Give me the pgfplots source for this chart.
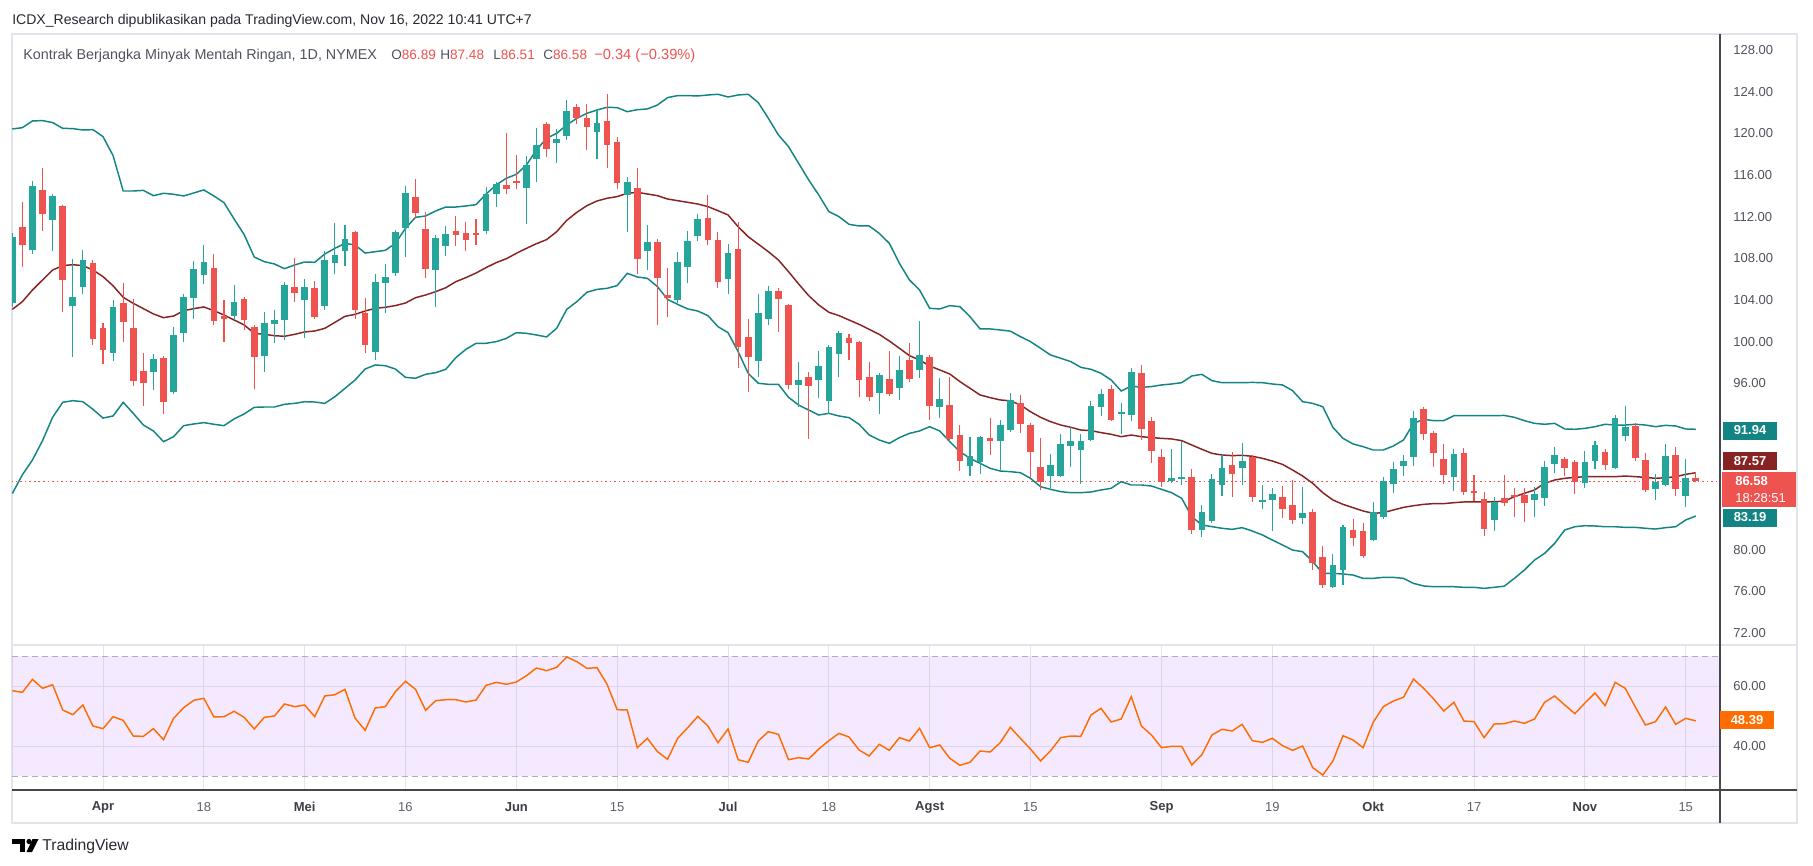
\documentclass[border=0pt]{standalone}
\usepackage{pgfplots}
\pgfplotsset{compat=1.18}
\usepackage{pgfplotstable}
\usepgfplotslibrary{fillbetween}
\usepackage{fontspec}
\setmainfont{Liberation Sans}
\definecolor{upc}{RGB}{38,166,154}
\definecolor{dnc}{RGB}{239,83,80}
\definecolor{bbc}{RGB}{19,132,132}
\definecolor{midc}{RGB}{135,35,35}
\definecolor{gridc}{RGB}{226,231,239}
\definecolor{axtxt}{RGB}{80,83,94}
\definecolor{rsic}{RGB}{255,109,0}
\definecolor{rsibg}{RGB}{153,21,255}
\definecolor{framec}{RGB}{226,228,236}
\definecolor{dashc}{RGB}{175,172,188}
\definecolor{darkax}{RGB}{70,70,75}
\definecolor{hdr}{RGB}{40,42,50}
\definecolor{monthc}{RGB}{60,62,70}
\definecolor{dayc}{RGB}{95,98,108}

\pgfplotstableread{
i o h l c
-9 103.67 110.40 103.30 110.07
-7 108.79 115.45 108.41 114.94
-5 111.71 114.17 108.73 113.98
-3 103.45 107.93 98.55 104.28
-2 105.27 108.79 104.60 107.83
1 98.93 103.99 98.16 103.32
5 97.11 98.80 95.35 98.32
7 95.18 101.40 94.93 100.63
8 100.85 104.57 99.99 104.28
9 104.21 107.74 102.20 106.97
10 106.42 109.27 105.56 107.64
13 102.45 105.43 102.07 103.80
16 98.64 102.84 97.10 101.78
17 101.72 103.03 99.89 102.07
18 102.10 105.72 100.18 105.43
20 103.99 106.00 100.37 105.24
22 103.45 108.70 103.06 107.83
23 107.58 111.39 106.49 108.31
24 108.70 111.20 107.26 109.85
27 99.03 106.49 98.26 105.72
28 105.65 107.45 102.77 106.20
29 106.62 110.71 106.30 110.52
30 110.91 114.94 108.12 114.27
33 106.87 110.23 103.35 109.94
34 109.18 111.10 108.22 110.33
38 110.62 114.84 110.33 114.17
39 114.17 115.32 112.92 115.13
42 114.75 117.82 111.29 116.96
43 117.54 120.51 115.32 118.88
45 119.07 120.42 117.15 119.46
46 119.74 123.20 119.36 122.15
49 120.13 122.34 117.54 120.99
52 114.08 115.80 110.52 115.32
54 108.70 111.19 106.87 109.56
57 103.99 108.60 103.70 107.64
58 107.16 110.62 105.62 109.65
59 110.14 112.25 109.65 111.77
62 106.00 109.37 104.57 108.50
65 98.13 104.57 96.59 102.74
66 102.16 105.33 101.59 104.85
69 95.82 98.03 93.71 96.30
71 96.30 99.09 94.58 97.65
72 94.29 99.67 93.04 99.47
73 98.80 101.01 96.59 100.82
77 95.05 96.98 93.04 96.78
79 95.53 98.61 94.38 97.26
81 97.26 101.97 96.49 98.70
83 93.71 96.49 92.65 94.48
86 88.04 90.83 87.08 89.00
87 88.42 90.92 87.27 90.83
89 90.44 92.46 87.66 91.98
90 91.50 95.06 91.31 94.39
94 87.09 89.20 85.93 88.14
95 87.09 91.12 86.99 90.16
96 89.97 91.79 87.95 90.45
97 89.58 91.12 86.32 90.45
98 90.54 94.29 90.45 93.81
99 93.71 95.44 92.85 94.96
101 93.08 94.10 91.12 93.22
102 92.94 97.46 92.37 97.08
106 86.60 89.68 86.41 86.89
107 86.80 90.45 86.22 86.95
109 81.90 84.30 81.23 83.63
110 82.76 87.28 82.60 86.80
111 86.22 89.10 85.16 87.85
113 87.85 90.26 86.22 88.53
115 84.62 86.22 83.91 84.78
116 84.78 85.93 81.80 85.35
119 83.05 86.03 82.47 83.53
122 76.42 79.59 76.30 78.54
123 78.06 82.38 76.61 82.19
126 80.94 84.59 80.80 83.63
127 83.15 86.99 83.00 86.60
128 86.32 88.43 85.45 87.76
129 88.04 89.10 87.09 88.53
130 88.91 93.33 88.04 92.66
134 86.99 89.68 85.64 89.20
138 82.86 85.07 81.80 84.59
142 84.78 86.03 83.18 85.35
143 84.97 88.53 84.20 87.95
144 88.24 89.87 87.37 89.10
147 86.41 89.49 85.93 88.43
148 88.53 90.45 87.76 90.06
150 87.85 92.94 87.80 92.65
151 90.93 93.81 90.45 91.79
154 85.84 87.27 84.78 86.51
155 86.22 90.16 86.10 89.00
157 85.16 88.72 84.11 86.92
}\upT

\pgfplotstableread{
i o h l c
-8 111.00 113.40 107.19 109.30
-6 114.56 116.67 110.65 112.28
-4 113.02 113.12 102.87 105.94
-1 107.54 107.83 99.67 100.28
0 101.30 101.78 97.87 99.22
2 103.70 105.62 99.99 101.91
3 101.30 104.05 95.76 96.24
4 97.17 98.90 93.84 96.05
6 98.42 98.61 93.01 94.22
11 107.06 108.41 101.62 102.00
12 102.45 103.99 99.99 102.20
14 104.09 104.28 101.14 102.10
15 101.40 101.59 95.41 98.55
19 105.24 108.02 103.80 104.66
21 105.14 105.81 102.19 102.36
25 110.52 110.60 102.19 103.03
26 102.77 104.18 98.93 99.70
31 113.88 115.61 111.84 112.38
32 110.81 112.44 106.10 107.00
35 110.62 112.06 109.18 110.23
36 110.43 111.48 108.70 109.79
37 110.43 111.77 109.27 110.28
40 115.04 120.03 114.17 114.65
41 115.42 117.92 114.65 115.23
44 120.90 121.09 117.73 118.50
47 122.53 122.82 120.90 121.47
48 121.47 122.82 118.40 120.61
50 121.19 123.78 116.67 118.88
51 119.17 119.65 114.65 115.23
53 114.75 116.67 106.49 107.93
55 109.56 109.85 101.59 106.10
56 104.47 107.06 102.36 104.18
60 111.87 114.08 109.27 109.75
61 109.75 110.52 105.14 105.72
63 108.89 111.48 97.46 99.47
64 100.44 102.16 95.15 98.51
67 104.85 105.14 100.91 104.08
68 103.51 103.60 95.44 95.82
70 96.59 97.07 90.64 95.73
74 100.34 100.72 98.22 99.86
75 99.95 100.05 94.67 96.30
76 96.59 98.03 94.29 94.67
78 96.40 99.09 94.77 94.96
80 98.22 99.86 96.11 96.40
82 98.51 98.70 92.46 93.80
84 93.90 96.59 90.50 90.64
85 91.02 91.98 87.56 88.52
88 90.73 92.65 89.10 90.44
91 94.10 94.87 91.22 92.08
92 91.98 92.18 86.89 89.39
93 87.95 90.74 85.74 86.51
100 95.44 95.83 92.37 92.46
103 96.98 97.75 90.54 91.60
104 92.37 92.75 88.33 89.49
105 88.91 89.68 86.03 86.51
108 86.99 87.76 81.51 81.90
112 88.14 89.39 85.07 87.28
114 88.91 89.10 84.59 85.07
117 85.07 86.12 83.05 83.91
118 84.30 86.70 82.47 82.86
120 83.63 83.91 78.06 78.73
121 79.30 80.36 76.33 76.61
124 81.90 82.95 80.36 81.13
125 81.80 82.57 79.21 79.40
131 93.52 93.71 90.54 91.12
132 91.21 91.40 87.95 89.29
133 88.72 90.16 86.32 87.18
135 89.29 89.78 85.26 85.55
136 85.64 87.18 84.68 85.45
137 84.87 85.55 81.32 82.00
139 84.97 87.18 84.20 84.49
140 85.26 85.93 83.18 85.03
141 85.26 85.93 82.70 84.49
145 88.72 88.91 87.08 87.85
146 88.43 88.62 85.35 86.51
149 89.39 89.68 87.66 88.14
152 91.89 92.17 88.53 88.81
153 88.62 89.29 85.55 85.74
156 89.10 89.87 85.16 85.84
158 86.89 87.48 86.51 86.58
}\dnT

\pgfplotstableread{
i u m d
-9 120.42 103.09 85.40
-8 120.54 103.83 87.20
-7 121.19 104.95 88.62
-6 121.22 105.91 90.48
-5 121.03 106.87 92.72
-4 120.48 107.29 94.16
-3 120.45 107.38 94.32
-2 120.32 107.29 94.22
-1 120.35 106.87 93.49
0 119.68 106.23 92.65
1 117.85 105.35 92.85
2 114.46 104.25 94.16
3 114.46 103.67 93.10
4 114.52 103.16 91.98
5 114.01 102.65 91.41
6 114.24 102.29 90.38
7 114.14 102.45 90.86
8 113.98 102.96 91.92
9 114.27 103.16 92.08
10 114.56 103.32 92.21
11 113.98 102.96 92.05
12 113.34 102.55 91.92
13 111.77 102.07 92.56
14 110.27 101.59 93.04
15 108.12 100.79 93.68
16 107.67 100.69 93.71
17 107.45 100.56 93.71
18 107.00 100.50 93.97
19 107.35 100.69 94.06
20 107.64 100.92 94.22
21 107.61 101.01 94.19
22 108.41 101.27 94.06
23 108.95 101.84 94.70
24 109.43 102.42 95.50
25 109.27 102.61 96.30
26 108.50 102.93 97.36
27 108.63 103.19 97.75
28 108.76 103.29 97.68
29 109.43 103.45 97.36
30 110.87 103.70 96.56
31 111.93 104.21 96.47
32 112.06 104.47 96.85
33 112.54 104.79 97.01
34 112.92 105.17 97.33
35 112.92 105.75 98.45
36 113.02 106.14 99.25
37 113.15 106.58 99.83
38 114.17 107.10 99.83
39 115.04 107.58 99.99
40 115.68 107.95 100.30
41 116.06 108.47 100.85
42 116.96 108.95 100.79
43 118.40 109.40 100.63
44 119.52 109.79 100.44
45 120.00 110.55 101.27
46 120.80 111.64 103.09
47 121.44 112.41 103.83
48 121.92 113.05 104.73
49 122.24 113.50 105.01
50 122.50 113.76 105.11
51 122.47 113.92 105.37
52 122.08 114.24 106.55
53 122.27 114.33 106.20
54 122.34 114.17 106.07
55 122.72 114.01 105.27
56 123.43 113.69 104.05
57 123.62 113.53 103.57
58 123.62 113.37 103.13
59 123.59 113.21 102.93
60 123.68 112.96 102.49
61 123.75 112.57 101.43
62 123.49 112.16 100.85
63 123.68 111.03 99.03
64 123.75 110.07 96.95
65 122.95 109.35 95.99
66 121.44 108.63 95.89
67 119.84 107.83 95.89
68 118.72 106.71 94.64
69 117.12 105.53 93.90
70 115.52 104.41 93.42
71 114.08 103.51 92.94
72 112.48 102.81 93.10
73 112.00 102.49 92.85
74 111.26 102.07 92.69
75 111.10 101.65 92.05
76 111.10 101.17 91.02
77 110.39 100.69 90.54
78 109.43 100.05 90.22
79 107.51 99.35 90.77
80 105.91 98.64 91.18
81 104.95 98.23 91.41
82 103.19 97.65 91.82
83 103.13 97.27 91.41
84 103.45 96.88 90.38
85 103.35 96.15 89.42
86 102.39 95.51 88.78
87 101.21 94.87 88.30
88 101.21 94.61 87.82
89 101.11 94.39 87.56
90 101.00 94.30 87.50
91 100.47 93.91 87.40
92 99.99 93.26 86.86
93 99.35 92.72 86.06
94 98.71 92.30 85.80
95 98.39 91.98 85.58
96 98.07 91.76 85.48
97 97.52 91.50 85.48
98 97.33 91.44 85.55
99 96.95 91.25 85.74
100 96.31 91.09 85.90
101 95.25 90.86 86.54
102 95.73 91.02 86.22
103 95.60 90.86 86.22
104 95.67 90.77 86.12
105 95.83 90.70 85.80
106 95.92 90.64 85.48
107 96.05 90.48 84.94
108 96.69 90.06 83.18
109 96.85 89.65 82.38
110 96.24 89.26 82.22
111 96.05 89.10 82.06
112 96.05 89.04 81.96
113 96.05 89.07 82.12
114 96.07 88.98 81.80
115 96.05 88.78 81.42
116 95.92 88.52 80.93
117 95.83 88.20 80.46
118 95.28 87.66 79.97
119 94.22 87.08 79.81
120 94.06 86.38 78.86
121 93.74 85.48 77.73
122 91.76 84.78 77.73
123 90.70 84.36 77.67
124 90.16 84.04 77.57
125 89.90 83.72 77.25
126 89.58 83.50 77.25
127 89.58 83.56 77.35
128 89.97 83.82 77.35
129 90.54 84.07 77.25
130 92.14 84.23 76.77
131 92.53 84.36 76.52
132 92.40 84.43 76.45
133 92.40 84.43 76.45
134 92.88 84.52 76.45
135 92.88 84.59 76.39
136 92.88 84.59 76.39
137 92.88 84.59 76.29
138 92.88 84.62 76.39
139 92.90 84.65 76.50
140 92.72 85.10 77.25
141 92.40 85.42 78.05
142 92.14 85.74 79.01
143 92.05 86.38 79.65
144 92.14 86.70 80.62
145 91.60 86.86 81.90
146 91.57 86.95 82.21
147 91.66 87.02 82.31
148 91.82 87.02 82.28
149 92.05 87.02 82.21
150 91.98 87.02 82.21
151 91.98 87.08 82.15
152 92.05 87.02 82.15
153 91.98 86.95 82.06
154 91.82 86.86 81.99
155 91.95 86.92 82.12
156 91.89 87.02 82.21
157 91.60 87.24 82.86
158 91.57 87.40 83.24
}\bbT

\pgfplotstableread{
i r
-9 58.44
-8 57.89
-7 62.22
-6 59.22
-5 60.44
-4 52.00
-3 50.44
-2 53.67
-1 46.67
0 45.78
1 49.78
2 48.56
3 43.33
4 43.22
5 45.78
6 42.11
7 49.22
8 52.78
9 55.22
10 55.89
11 49.67
12 49.78
13 51.56
14 49.56
15 45.67
16 49.56
17 50.00
18 54.00
19 53.11
20 53.67
21 49.78
22 56.67
23 57.11
24 58.89
25 49.33
26 45.22
27 52.67
28 53.11
29 58.11
30 61.56
31 58.89
32 51.89
33 55.11
34 55.44
35 55.44
36 54.67
37 55.33
38 60.22
39 61.22
40 60.56
41 61.33
42 63.44
43 66.00
44 65.11
45 66.22
46 69.67
47 68.11
48 65.89
49 66.11
50 60.56
51 52.11
52 52.00
53 39.44
54 42.56
55 38.11
56 35.56
57 42.56
58 46.11
59 49.89
60 46.67
61 41.11
62 45.67
63 35.44
64 34.56
65 41.67
66 44.78
67 43.89
68 35.44
69 36.11
70 35.67
71 39.00
72 41.78
73 44.22
74 43.00
75 38.67
76 36.67
77 40.56
78 38.56
79 42.78
80 41.67
81 45.89
82 39.44
83 40.33
84 35.89
85 33.56
86 34.56
87 38.33
88 38.00
89 41.11
90 46.22
91 42.56
92 39.00
93 35.00
94 38.44
95 42.78
96 43.33
97 43.22
98 50.33
99 52.56
100 48.00
101 49.00
102 56.44
103 46.67
104 43.67
105 39.44
106 39.89
107 39.89
108 33.67
109 37.11
110 43.67
111 45.56
112 45.00
113 47.22
114 41.78
115 41.22
116 42.56
117 40.11
118 38.56
119 40.00
120 32.78
121 30.33
122 35.00
123 43.44
124 42.00
125 39.44
126 47.89
127 53.11
128 55.00
129 56.22
130 62.33
131 59.22
132 55.67
133 51.67
134 54.56
135 48.33
136 48.11
137 42.78
138 47.33
139 47.44
140 48.33
141 47.56
142 49.00
143 54.56
144 56.67
145 53.67
146 50.78
147 54.33
148 57.67
149 53.44
150 61.22
151 59.22
152 53.00
153 47.00
154 48.11
155 53.00
156 47.22
157 49.22
158 48.39
}\rsiT

\begin{document}
\begin{tikzpicture}
\begin{scope}[x=0.75pt,y=-0.75pt]
\fill[white] (0,0) rectangle (1813,866);
\useasboundingbox (0,0) rectangle (1813,866);
\draw[framec, line width=1.5pt] (12,34) rectangle (1797,823);
\end{scope}

% ---------------- price pane ----------------
\begin{axis}[
  at={(9pt,-25.5pt)}, anchor=north west,
  scale only axis, width=1281pt, height=458.25pt,
  xmin=-9.03, xmax=160.4, ymin=70.85, ymax=129.54,
  axis line style={draw=none}, major tick length=0pt,
  xtick={0,10,20,30,41,51,62,72,82,92,105,116,126,136,147,157},
  xticklabels={},
  ytick={72,76,...,128},
  yticklabels={72.00,76.00,80.00,{},{},{},96.00,100.00,104.00,108.00,112.00,116.00,120.00,124.00,128.00},
  yticklabel pos=right,
  yticklabel style={anchor=west, xshift=6.5pt, font=\fontsize{9.75}{11}\selectfont, text=axtxt},
  grid=major, grid style={gridc, line width=0.75pt},
]
\addplot[name path=bbU, draw=bbc, line width=1.1pt] table[x=i,y=u]{\bbT};
\addplot[name path=bbL, draw=bbc, line width=1.1pt] table[x=i,y=d]{\bbT};
\addplot[fill=bbc, fill opacity=0.06, draw=none] fill between[of=bbU and bbL];
\addplot[draw=midc, line width=1.1pt] table[x=i,y=m]{\bbT};
\addplot[draw=dnc, line width=0.8pt, dash pattern=on 1.2pt off 2.2pt] coordinates {(-10,86.58) (161,86.58)};
% wicks
\addplot[draw=none, mark=none, error bars/.cd, y dir=plus, y explicit, error mark=none,
  error bar style={draw=upc, line width=0.8pt}]
  table[x=i, y=l, y error plus expr=\thisrow{h}-\thisrow{l}]{\upT};
\addplot[draw=none, mark=none, error bars/.cd, y dir=plus, y explicit, error mark=none,
  error bar style={draw=dnc, line width=0.8pt}]
  table[x=i, y=l, y error plus expr=\thisrow{h}-\thisrow{l}]{\dnT};
% bodies
\addplot[draw=none, mark=none, error bars/.cd, y dir=plus, y explicit, error mark=none,
  error bar style={draw=upc, line width=5pt}]
  table[x=i, y=o, y error plus expr=\thisrow{c}-\thisrow{o}]{\upT};
\addplot[draw=none, mark=none, error bars/.cd, y dir=plus, y explicit, error mark=none,
  error bar style={draw=dnc, line width=5pt}]
  table[x=i, y=c, y error plus expr=\thisrow{o}-\thisrow{c}]{\dnT};
\end{axis}

% ---------------- RSI pane ----------------
\begin{axis}[
  at={(9pt,-483.75pt)}, anchor=north west,
  scale only axis, width=1281pt, height=108.75pt,
  xmin=-9.03, xmax=160.4, ymin=25.333, ymax=73.667,
  axis line style={draw=none}, major tick length=0pt,
  xtick={0,10,20,30,41,51,62,72,82,92,105,116,126,136,147,157},
  xticklabels={\textcolor{monthc}{\textbf{Apr}},\textcolor{dayc}{18},\textcolor{monthc}{\textbf{Mei}},\textcolor{dayc}{16},\textcolor{monthc}{\textbf{Jun}},\textcolor{dayc}{15},\textcolor{monthc}{\textbf{Jul}},\textcolor{dayc}{18},\textcolor{monthc}{\textbf{Agst}},\textcolor{dayc}{15},\textcolor{monthc}{\textbf{Sep}},\textcolor{dayc}{19},\textcolor{monthc}{\textbf{Okt}},\textcolor{dayc}{17},\textcolor{monthc}{\textbf{Nov}},\textcolor{dayc}{15}},
  xticklabel style={anchor=center, yshift=-12.75pt, font=\fontsize{9.75}{11}\selectfont},
  ytick={40,60},
  yticklabels={40.00,60.00},
  yticklabel pos=right,
  yticklabel style={anchor=west, xshift=6.5pt, font=\fontsize{9.75}{11}\selectfont, text=axtxt},
  grid=major, grid style={gridc, line width=0.75pt},
]
\addplot[draw=none, fill=rsibg, fill opacity=0.09] coordinates {(-10,30) (161,30) (161,70) (-10,70)};
\addplot[draw=dashc, line width=0.75pt, dash pattern=on 4.5pt off 3pt] coordinates {(-10,30) (161,30)};
\addplot[draw=dashc, line width=0.75pt, dash pattern=on 4.5pt off 3pt] coordinates {(-10,70) (161,70)};
\addplot[draw=rsic, line width=1.1pt] table[x=i,y=r]{\rsiT};
\end{axis}

\begin{scope}[x=0.75pt,y=-0.75pt]
\draw[framec, line width=1.5pt] (12,645) -- (1797,645);
\draw[darkax, line width=0.8pt] (12,790) -- (1797,790);
\draw[darkax, line width=0.8pt] (1720,34) -- (1720,823);
% value boxes
\node[fill=bbc, text=white, font=\bfseries\fontsize{9.75}{11}\selectfont, minimum width=40.5pt, minimum height=13.5pt, inner sep=0pt] at (1750,430.5) {91.94};
\node[fill=midc, text=white, font=\bfseries\fontsize{9.75}{11}\selectfont, minimum width=40.5pt, minimum height=13.5pt, inner sep=0pt] at (1750,461) {87.57};
\fill[dnc] (1722,472) rectangle (1796,507);
\node[text=white, font=\bfseries\fontsize{9.75}{11}\selectfont, anchor=west, inner sep=0pt] at (1735,481) {86.58};
\node[text=white, font=\fontsize{9.75}{11}\selectfont, anchor=west, inner sep=0pt] at (1735,498) {18:28:51};
\node[fill=bbc, text=white, font=\bfseries\fontsize{9.75}{11}\selectfont, minimum width=40.5pt, minimum height=13.5pt, inner sep=0pt] at (1750,517.5) {83.19};
\node[fill=rsic, text=white, font=\bfseries\fontsize{9.75}{11}\selectfont, minimum width=40.5pt, minimum height=13.5pt, inner sep=0pt] at (1747,720) {48.39};
% header
\node[anchor=base west, inner sep=0pt, text=hdr, font=\fontsize{10.55}{13}\selectfont] at (12,25) {ICDX\_Research dipublikasikan pada TradingView.com, Nov 16, 2022 10:41 UTC+7};
\node[anchor=base west, inner sep=0pt, text=axtxt, font=\fontsize{10.75}{13}\selectfont] at (23,60) {Kontrak Berjangka Minyak Mentah Ringan, 1D, NYMEX};
\node[anchor=base west, inner sep=0pt, font=\fontsize{10.2}{13}\selectfont] at (391,60) {\textcolor{axtxt}{O}\textcolor{dnc}{86.89}};
\node[anchor=base west, inner sep=0pt, font=\fontsize{10.2}{13}\selectfont] at (440,60) {\textcolor{axtxt}{H}\textcolor{dnc}{87.48}};
\node[anchor=base west, inner sep=0pt, font=\fontsize{10.2}{13}\selectfont] at (493,60) {\textcolor{axtxt}{L}\textcolor{dnc}{86.51}};
\node[anchor=base west, inner sep=0pt, font=\fontsize{10.2}{13}\selectfont] at (543,60) {\textcolor{axtxt}{C}\textcolor{dnc}{86.58}};
\node[anchor=base west, inner sep=0pt, font=\fontsize{11}{13}\selectfont, text=dnc] at (594,60) {−0.34 (−0.39\%)};
% logo
\fill[black] (12,839) rectangle (25,843.5);
\fill[black] (19.5,839) rectangle (25,852);
\fill[black] (29,841.5) circle (2.6);
\fill[black] (32.5,839) -- (38.5,839) -- (32,852) -- (26.5,852) -- cycle;
\node[anchor=west, inner sep=0pt, text=hdr, font=\fontsize{11.8}{14}\selectfont] at (42,846) {TradingView};
\end{scope}
\end{tikzpicture}
\end{document}
